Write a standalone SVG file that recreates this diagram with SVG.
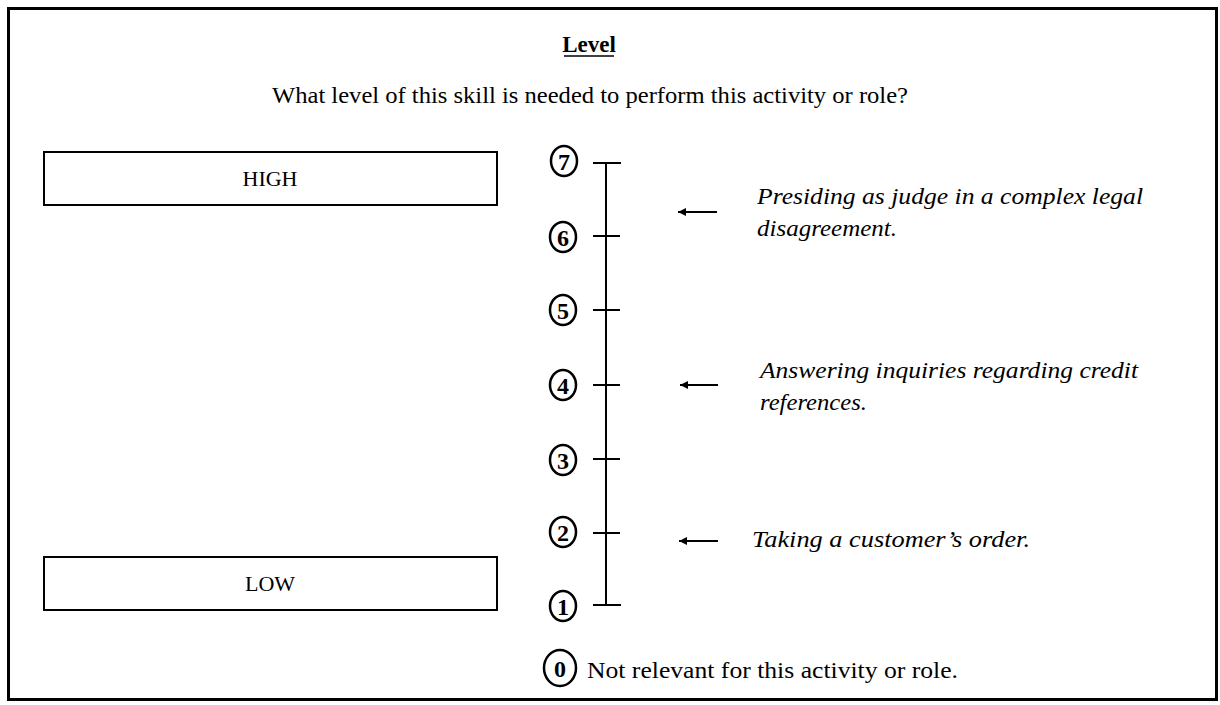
<svg xmlns="http://www.w3.org/2000/svg" width="1220" height="705" viewBox="0 0 1220 705">
<style>
text{font-family:"Liberation Serif","Times New Roman",serif;fill:#000}
.num{font-weight:bold;font-size:24px;text-anchor:middle}
.lab{font-size:22px;text-anchor:middle}
.it{font-style:italic;font-size:24px}
.ln{stroke:#000;fill:none;stroke-width:2}
.circ{stroke:#000;fill:#fff;stroke-width:2.5}
</style>
<defs>
<marker id="ah" viewBox="0 0 10 10" refX="10" refY="5" markerWidth="10" markerHeight="8" markerUnits="userSpaceOnUse" orient="auto">
<path d="M0,0 L10,5 L0,10 Z" fill="#000"/>
</marker>
</defs>
<rect x="0" y="0" width="1220" height="705" fill="#fff"/>
<rect x="8.5" y="8.5" width="1208" height="691" fill="none" stroke="#000" stroke-width="3"/>
<g id="title">
<text x="589" y="52" font-size="23" font-weight="bold" text-anchor="middle">Level</text>
<line x1="564" y1="56" x2="614" y2="56" stroke="#000" stroke-width="1.6"/>
<text x="272" y="103" font-size="23.5" textLength="636" lengthAdjust="spacingAndGlyphs">What level of this skill is needed to perform this activity or role?</text>
</g>
<g id="high"><rect x="44" y="152" width="453" height="53" class="ln"/><text class="lab" x="270" y="186">HIGH</text></g>
<g id="low"><rect x="44" y="557" width="453" height="53" class="ln"/><text class="lab" x="270" y="591">LOW</text></g>
<g id="axis">
<line x1="606" y1="163" x2="606" y2="605" class="ln"/>
<line x1="593" y1="163" x2="621" y2="163" class="ln"/>
<line x1="593" y1="236" x2="620" y2="236" class="ln"/>
<line x1="593" y1="310" x2="620" y2="310" class="ln"/>
<line x1="593" y1="385" x2="620" y2="385" class="ln"/>
<line x1="593" y1="459" x2="620" y2="459" class="ln"/>
<line x1="593" y1="533" x2="620" y2="533" class="ln"/>
<line x1="593" y1="605" x2="621" y2="605" class="ln"/>
</g>
<g id="n7"><ellipse cx="564" cy="161" rx="13" ry="15" class="circ"/><text class="num" x="564" y="169.5">7</text></g>
<g id="n6"><ellipse cx="563" cy="237" rx="13" ry="15" class="circ"/><text class="num" x="563" y="245.5">6</text></g>
<g id="n5"><ellipse cx="563" cy="310" rx="13" ry="15" class="circ"/><text class="num" x="563" y="318.5">5</text></g>
<g id="n4"><ellipse cx="563" cy="385" rx="13" ry="15" class="circ"/><text class="num" x="563" y="393.5">4</text></g>
<g id="n3"><ellipse cx="563" cy="460" rx="13" ry="15" class="circ"/><text class="num" x="563" y="468.5">3</text></g>
<g id="n2"><ellipse cx="563" cy="532" rx="13" ry="15" class="circ"/><text class="num" x="563" y="540.5">2</text></g>
<g id="n1"><ellipse cx="563" cy="606" rx="13" ry="15" class="circ"/><text class="num" x="563" y="614.5">1</text></g>
<g id="n0"><ellipse cx="560" cy="668" rx="16" ry="18" class="circ"/><text class="num" x="560" y="676.5">0</text>
<text x="587" y="678" font-size="23.5" textLength="371" lengthAdjust="spacingAndGlyphs">Not relevant for this activity or role.</text></g>
<g id="connectors">
<line x1="717" y1="212" x2="678" y2="212" class="ln" stroke-width="1.8" marker-end="url(#ah)"/>
<line x1="718" y1="385" x2="680" y2="385" class="ln" stroke-width="1.8" marker-end="url(#ah)"/>
<line x1="718" y1="541" x2="679" y2="541" class="ln" stroke-width="1.8" marker-end="url(#ah)"/>
</g>
<g id="ex-high"><text class="it" x="757" y="204" textLength="386" lengthAdjust="spacingAndGlyphs">Presiding as judge in a complex legal</text><text class="it" x="757" y="236" textLength="140" lengthAdjust="spacingAndGlyphs">disagreement.</text></g>
<g id="ex-mid"><text class="it" x="760" y="378" textLength="378" lengthAdjust="spacingAndGlyphs">Answering inquiries regarding credit</text><text class="it" x="760" y="410" textLength="107" lengthAdjust="spacingAndGlyphs">references.</text></g>
<g id="ex-low"><text class="it" x="752" y="547" textLength="278" lengthAdjust="spacingAndGlyphs">Taking a customer’s order.</text></g>
</svg>
